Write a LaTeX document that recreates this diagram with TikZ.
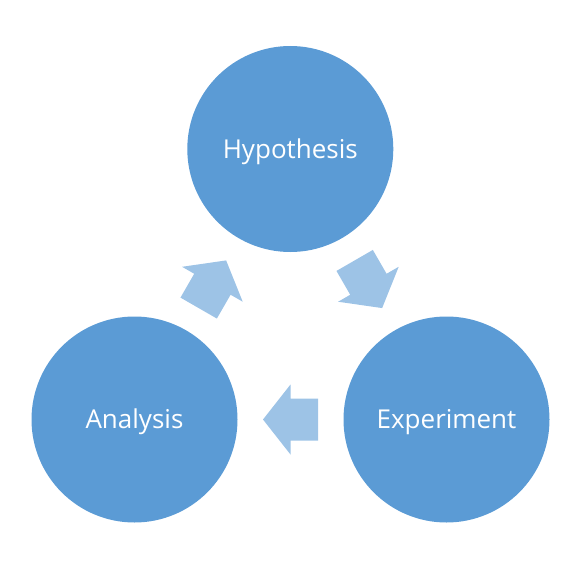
\documentclass[tikz,border=0pt]{standalone}
\usepackage{fontspec}
\setmainfont{Open Sans}
\usetikzlibrary{calc}
\begin{document}
\begin{tikzpicture}[x=1pt,y=-1pt,
  bubble/.style={circle, fill=circ, draw=none, minimum size=206pt, inner sep=0pt,
    text=white, font=\fontsize{26}{31}\selectfont, text height=18.5pt, text depth=0pt},
  blockarrow/.style={fill=arr, draw=none}]
\definecolor{circ}{HTML}{5B9BD5}
\definecolor{arr}{HTML}{9DC3E6}
\useasboundingbox (0,0) rectangle (578,578);
\node[bubble] (hyp) at (290.3,149) {Hypothesis};
\node[bubble] (exp) at (446.5,419.5) {Experiment};
\node[bubble] (ana) at (134.5,419.5) {Analysis};
% block arrows centred between circle pairs, pointing along the cycle
\newcommand{\cyclearrow}[2]{%
  \path (#1.center) -- (#2.center) coordinate[midway] (mid#1#2);
  \path let \p1=($(#2.center)-(#1.center)$), \n1={atan2(\y1,\x1)} in
    [blockarrow, shift={(mid#1#2)}, rotate=\n1]
    (27.5,0) -- (0,35) -- (0,21) -- (-27.5,21) -- (-27.5,-21) -- (0,-21) -- (0,-35) -- cycle;
}
\cyclearrow{ana}{hyp}
\cyclearrow{hyp}{exp}
\cyclearrow{exp}{ana}
\end{tikzpicture}
\end{document}
